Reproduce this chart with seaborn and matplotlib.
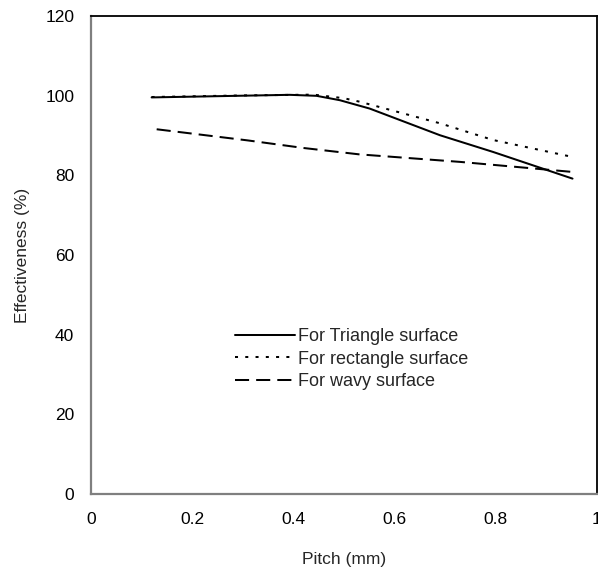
import matplotlib
matplotlib.use("Agg")
import matplotlib.pyplot as plt
import seaborn as sns
import pandas as pd

sns.set_theme(style="white")
plt.rcParams['font.family'] = ['Liberation Sans', 'DejaVu Sans']

# Effectiveness (%) versus pitch (mm) for three surface shapes
pitch_triangle = [0.12, 0.288, 0.393, 0.446, 0.492, 0.551, 0.690, 0.795, 0.952]
eff_triangle = [99.6, 100.0, 100.25, 100.0, 98.9, 96.8, 90.1, 85.9, 79.2]

pitch_rectangle = [0.12, 0.30, 0.44, 0.50, 0.532, 0.690, 0.795, 0.95]
eff_rectangle = [99.7, 100.1, 100.3, 99.4, 98.5, 93.1, 88.9, 84.7]

pitch_wavy = [0.13, 0.31, 0.42, 0.53, 0.73, 0.95]
eff_wavy = [91.6, 88.8, 86.9, 85.3, 83.4, 80.9]

labels = ["For Triangle surface", "For rectangle surface", "For wavy surface"]

fig = plt.figure(figsize=(5.98, 5.79), dpi=100)
ax = fig.add_axes([0.152, 0.147, 0.846, 0.825])

series = [
    (pitch_triangle, eff_triangle, labels[0], "-"),
    (pitch_rectangle, eff_rectangle, labels[1], (0, (1.5, 3.6))),
    (pitch_wavy, eff_wavy, labels[2], (0, (7, 3.5))),
]
for xs, ys, lab, ls in series:
    df = pd.DataFrame({"Pitch": xs, "Eff": ys})
    sns.lineplot(data=df, x="Pitch", y="Eff", ax=ax, color="black",
                 linewidth=1.45, linestyle=ls, label=lab)

ax.set_xlim(0, 1)
ax.set_ylim(0, 120)
ax.set_xticks([0, 0.2, 0.4, 0.6, 0.8, 1])
ax.set_xticklabels(["0", "0.2", "0.4", "0.6", "0.8", "1"])
ax.set_yticks([0, 20, 40, 60, 80, 100, 120])
ax.tick_params(axis="x", length=0, pad=13, labelsize=12.5, colors="black")
ax.tick_params(axis="y", length=0, pad=12, labelsize=12.5, colors="black")
ax.set_xlabel("Pitch (mm)", fontsize=12.5, labelpad=18)
ax.set_ylabel("Effectiveness (%)", fontsize=12.5, labelpad=11)

for side in ["top", "right"]:
    ax.spines[side].set_color("black")
    ax.spines[side].set_linewidth(1.3)
for side in ["left", "bottom"]:
    ax.spines[side].set_color("#7f7f7f")
    ax.spines[side].set_linewidth(1.6)

ax.legend(loc="center left", bbox_to_anchor=(0.253, 0.282), frameon=False,
          fontsize=13, handlelength=3.3, handletextpad=0.17, labelspacing=0.3)

fig.savefig("out.png", dpi=100)
